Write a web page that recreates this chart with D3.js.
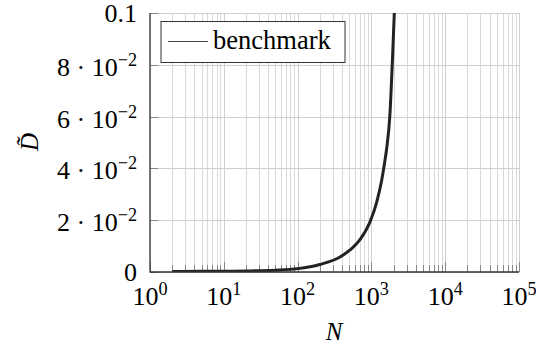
<!DOCTYPE html>
<html><head><meta charset="utf-8">
<script src="https://cdn.jsdelivr.net/npm/d3@7"></script>
<style>
html,body{margin:0;padding:0;background:#fff;}
</style></head><body>
<svg id="c" width="536" height="350"></svg>
<script>
// Data
const seriesName = "benchmark";
const N = [2, 5, 10, 20, 50, 100, 200, 376, 513, 701, 957, 1180, 1379, 1528, 1612, 1786, 1919, 2043, 2120];
const D = [0.0002, 0.0003, 0.0003, 0.0004, 0.0007, 0.0013, 0.0029, 0.0058, 0.0085, 0.0125, 0.0193, 0.027, 0.0354, 0.0432, 0.0478, 0.0612, 0.0806, 0.0999, 0.115];
const xTickExps = [0, 1, 2, 3, 4, 5];
const yTicks = [0, 0.02, 0.04, 0.06, 0.08, 0.1];
const yTickMantissa = ["0", "2", "4", "6", "8", "0.1"];

const FONT = "'Liberation Serif', Tinos, 'Times New Roman', Times, 'DejaVu Serif', serif";
const svg = d3.select("#c").attr("font-family", FONT);
const L = 150, R = 519, T = 13, B = 272;
const x = d3.scaleLog().domain([1, 1e5]).range([L, R]);
const y = d3.scaleLinear().domain([0, 0.1]).range([B, T]);

const minors = [];
for (let e = 0; e < 5; e++) for (let k = 2; k <= 9; k++) minors.push(k * Math.pow(10, e));
const majors = xTickExps.map(e => Math.pow(10, e));

const grid = svg.append("g");
grid.selectAll(".mg").data(minors).join("line")
  .attr("x1", d => Math.round(x(d)) + 0.5).attr("x2", d => Math.round(x(d)) + 0.5)
  .attr("y1", T).attr("y2", B).attr("stroke", "#d9d9d9").attr("stroke-width", 1);
grid.selectAll(".Mg").data(majors).join("line")
  .attr("x1", d => Math.round(x(d)) + 0.5).attr("x2", d => Math.round(x(d)) + 0.5)
  .attr("y1", T).attr("y2", B).attr("stroke", "#cfcfcf").attr("stroke-width", 1);
grid.selectAll(".yg").data(yTicks).join("line")
  .attr("x1", L).attr("x2", R)
  .attr("y1", d => Math.round(y(d)) + 0.5).attr("y2", d => Math.round(y(d)) + 0.5)
  .attr("stroke", "#cfcfcf").attr("stroke-width", 1);

const ticks = svg.append("g").attr("stroke", "#888").attr("stroke-width", 1);
ticks.selectAll(".mt").data(minors).join("line")
  .attr("x1", d => Math.round(x(d)) + 0.5).attr("x2", d => Math.round(x(d)) + 0.5)
  .attr("y1", B).attr("y2", B - 7);
ticks.selectAll(".Mt").data(majors).join("line")
  .attr("x1", d => Math.round(x(d)) + 0.5).attr("x2", d => Math.round(x(d)) + 0.5)
  .attr("y1", B).attr("y2", B - 10);
ticks.selectAll(".yt").data(yTicks).join("line")
  .attr("x1", L).attr("x2", L + 8)
  .attr("y1", d => Math.round(y(d)) + 0.5).attr("y2", d => Math.round(y(d)) + 0.5);

svg.append("clipPath").attr("id", "clip").append("rect")
  .attr("x", L).attr("y", T).attr("width", R - L).attr("height", B - T);
const pts = N.map((n, i) => [n, D[i]]);
const line = d3.line().x(d => x(d[0])).y(d => y(d[1])).curve(d3.curveMonotoneX);
svg.append("path").datum(pts).attr("clip-path", "url(#clip)")
  .attr("d", line).attr("fill", "none").attr("stroke", "#222").attr("stroke-width", 3);

svg.append("line").attr("x1", L).attr("x2", L).attr("y1", T).attr("y2", B + 0.5)
  .attr("stroke", "#333").attr("stroke-width", 1.3);
svg.append("line").attr("x1", L).attr("x2", R).attr("y1", B).attr("y2", B)
  .attr("stroke", "#333").attr("stroke-width", 1.3);

const fs = 26;
const xl = svg.append("g").attr("font-size", fs).attr("fill", "#000");
xTickExps.forEach(e => {
  const t = xl.append("text").attr("font-family", FONT).attr("x", x(Math.pow(10, e))).attr("y", 305).attr("text-anchor", "middle");
  t.append("tspan").text("10");
  t.append("tspan").attr("font-size", fs * 0.7).attr("dy", -10).text(String(e));
});

const yl = svg.append("g").attr("font-size", fs).attr("fill", "#000");
yTicks.forEach((v, i) => {
  if (v === 0 || v === 0.1) {
    yl.append("text").attr("font-family", FONT).attr("x", 137).attr("y", y(v) + 9).attr("text-anchor", "end")
      .text(yTickMantissa[i]);
  } else {
    const t = yl.append("text").attr("font-family", FONT).attr("x", 137).attr("y", y(v) + 11).attr("text-anchor", "end");
    t.append("tspan").text(yTickMantissa[i] + " \u00B7 10");
    t.append("tspan").attr("font-size", fs * 0.7).attr("dy", -10).text("\u22122");
  }
});

svg.append("text").attr("font-family", FONT).attr("x", 334).attr("y", 340).attr("text-anchor", "middle")
  .attr("font-size", 25).attr("font-style", "italic").text("N");
svg.append("text").attr("font-family", FONT).attr("transform", "translate(38,142) rotate(-90)").attr("text-anchor", "middle")
  .attr("font-size", 25).attr("font-style", "italic").text("D\u0303");

const lg = svg.append("g");
lg.append("rect").attr("x", 161).attr("y", 21.5).attr("width", 184).attr("height", 41)
  .attr("fill", "#fff").attr("stroke", "#333").attr("stroke-width", 1);
lg.append("line").attr("x1", 168).attr("x2", 208).attr("y1", 41.5).attr("y2", 41.5)
  .attr("stroke", "#444").attr("stroke-width", 1.2);
lg.append("text").attr("font-family", FONT).attr("x", 213).attr("y", 48.5).attr("font-size", 26.5).text(seriesName);
</script>
</body></html>
